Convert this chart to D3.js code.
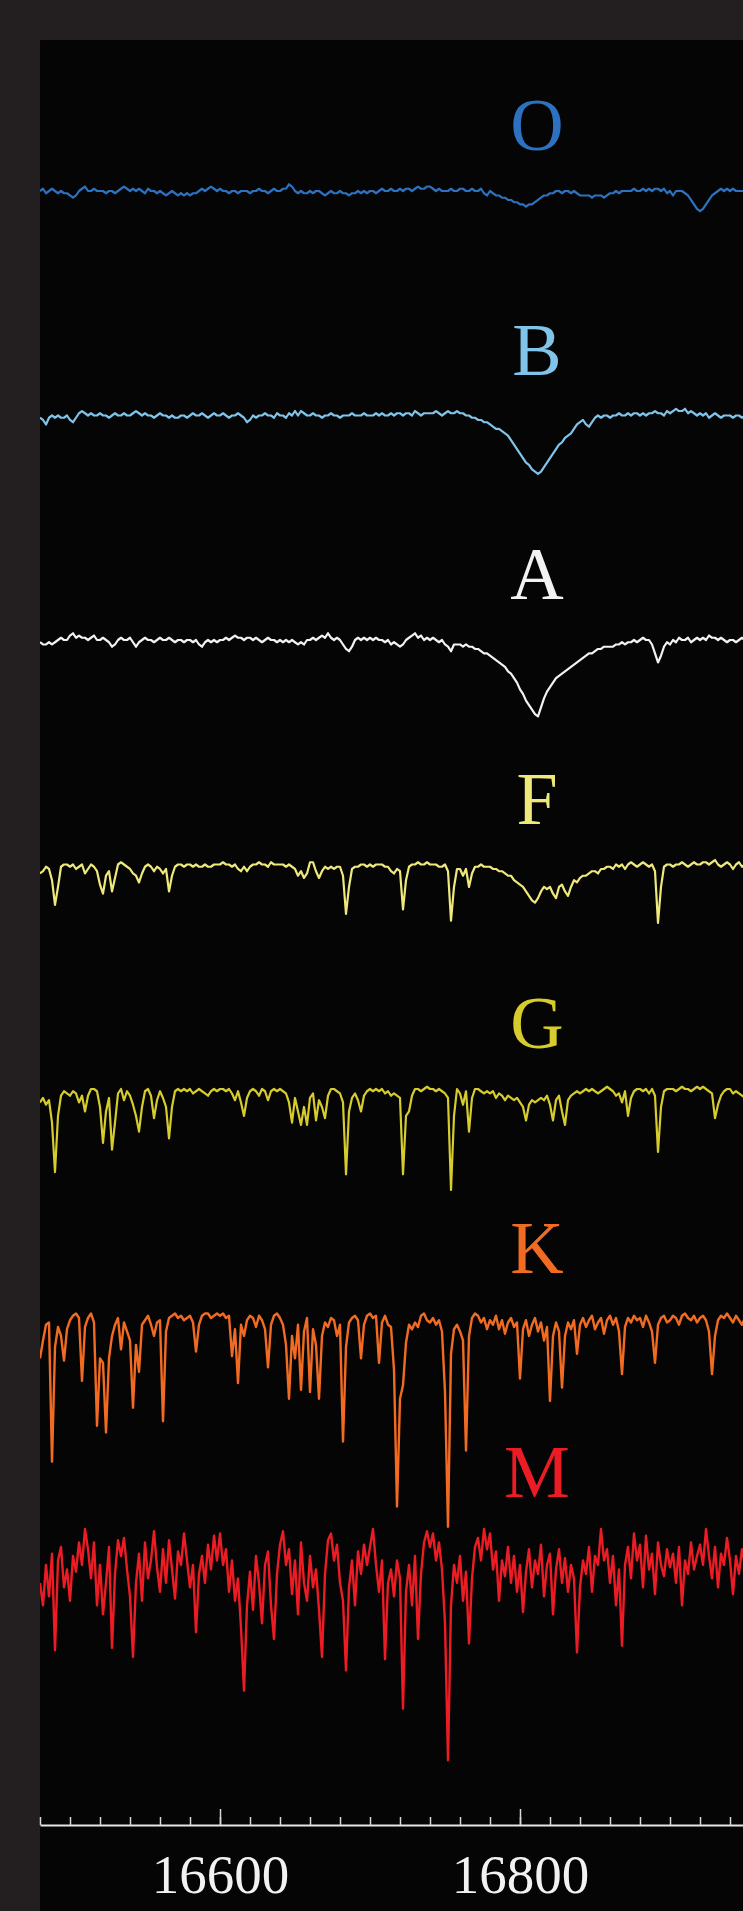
<!DOCTYPE html>
<html>
<head>
<meta charset="utf-8">
<script src="https://cdn.jsdelivr.net/npm/d3@7"></script>
<style>
  html, body { margin: 0; padding: 0; background: #231f20; }
  svg { display: block; }
</style>
</head>
<body>
<svg id="chart" width="743" height="1911"></svg>
<script>
// Wavelength sampling of every spectrum (Angstrom): first sample and spacing
const lambdaStart = 16480;
const lambdaStep = 2;

// Spectral classes, drawn top to bottom, and their colours
const spectralTypes = ["O", "B", "A", "F", "G", "K", "M"];
const typeColors = ["#2d72c0", "#80c4ea", "#f2f2f2", "#efe97c", "#d6cc2e", "#f26b22", "#ec1c24"];

// Normalised flux (continuum = 1) per class
const fluxO = [
  1.00, 1.01, 0.99, 1.00, 1.01, 1.00, 0.99, 1.00, 0.99, 0.99,
  0.98, 0.97, 0.98, 1.00, 1.01, 1.02, 1.00, 1.00, 1.01, 1.00,
  1.00, 1.00, 0.99, 1.00, 1.00, 0.99, 1.00, 1.01, 1.02, 1.01,
  1.00, 1.01, 1.00, 1.01, 1.00, 0.99, 1.01, 1.00, 1.00, 0.99,
  1.00, 0.99, 0.98, 0.99, 1.00, 0.99, 0.98, 0.99, 0.98, 0.99,
  0.98, 0.99, 0.99, 1.00, 1.01, 1.00, 1.01, 1.02, 1.01, 1.00,
  1.01, 1.00, 1.00, 0.99, 1.00, 1.00, 0.99, 1.00, 1.00, 1.00,
  0.99, 1.00, 1.00, 1.01, 1.00, 1.00, 0.99, 1.00, 1.01, 1.00,
  1.00, 1.01, 1.01, 1.03, 1.02, 1.00, 0.99, 1.00, 0.99, 0.99,
  1.00, 0.99, 1.00, 1.00, 0.99, 0.98, 0.99, 1.00, 0.99, 0.99,
  1.00, 0.99, 0.99, 0.98, 0.99, 0.99, 1.00, 0.99, 1.00, 0.99,
  1.00, 1.00, 0.99, 1.00, 1.01, 1.00, 1.00, 1.01, 1.00, 1.00,
  1.01, 1.00, 1.01, 1.01, 1.00, 1.01, 1.02, 1.01, 1.01, 1.02,
  1.02, 1.01, 1.00, 1.01, 1.00, 1.00, 1.00, 1.01, 1.00, 1.00,
  1.01, 1.01, 1.00, 1.00, 1.01, 1.00, 1.00, 1.01, 0.99, 0.98,
  1.00, 0.99, 0.98, 0.98, 0.97, 0.97, 0.96, 0.96, 0.95, 0.95,
  0.94, 0.94, 0.93, 0.94, 0.94, 0.95, 0.96, 0.97, 0.98, 0.98,
  0.99, 0.99, 1.00, 1.00, 0.99, 1.00, 1.00, 0.99, 1.00, 0.99,
  0.98, 0.98, 0.98, 0.98, 0.97, 0.98, 0.98, 0.98, 0.97, 0.98,
  0.99, 0.99, 1.00, 0.99, 1.00, 1.00, 1.00, 1.00, 1.01, 1.00,
  1.00, 1.01, 1.00, 1.01, 1.00, 1.01, 1.01, 1.00, 1.01, 0.99,
  1.00, 0.98, 1.00, 1.00, 1.00, 0.99, 0.98, 0.96, 0.94, 0.92,
  0.91, 0.92, 0.94, 0.96, 0.98, 0.99, 1.00, 1.01, 1.00, 1.01,
  1.00, 1.01, 1.00, 1.00, 1.00, 1.00
];

const fluxB = [
  0.99, 0.98, 0.96, 0.99, 1.00, 0.99, 1.00, 0.99, 0.99, 1.00,
  0.98, 0.97, 0.99, 1.01, 1.02, 1.01, 1.00, 1.01, 1.00, 1.00,
  1.01, 1.00, 1.00, 0.99, 1.00, 1.01, 1.00, 1.00, 1.01, 1.00,
  1.00, 1.01, 1.02, 1.01, 1.00, 1.01, 1.00, 1.00, 0.99, 1.00,
  1.01, 1.00, 1.00, 0.99, 1.00, 0.99, 0.99, 1.00, 1.00, 0.99,
  1.00, 1.01, 1.00, 1.00, 1.01, 1.00, 0.99, 1.00, 1.01, 1.00,
  1.00, 1.01, 1.00, 0.99, 1.00, 1.00, 1.01, 1.00, 0.99, 0.97,
  0.98, 1.00, 0.99, 1.00, 1.00, 1.01, 1.00, 1.00, 0.99, 1.01,
  1.00, 1.00, 0.99, 1.01, 1.00, 1.02, 1.00, 1.02, 1.01, 1.00,
  1.00, 1.01, 1.00, 1.00, 0.99, 1.00, 1.00, 1.01, 1.00, 1.00,
  0.99, 1.00, 1.00, 1.00, 1.01, 1.00, 1.00, 1.00, 1.01, 1.00,
  1.00, 1.00, 1.01, 1.00, 1.01, 1.00, 1.00, 1.01, 1.00, 1.01,
  1.01, 1.00, 1.01, 1.01, 1.00, 1.02, 1.01, 1.00, 1.01, 1.01,
  1.01, 1.01, 1.02, 1.01, 1.00, 1.01, 1.02, 1.01, 1.01, 1.02,
  1.01, 1.01, 1.00, 1.00, 0.99, 0.99, 0.98, 0.98, 0.97, 0.97,
  0.96, 0.95, 0.94, 0.94, 0.93, 0.92, 0.91, 0.89, 0.87, 0.85,
  0.83, 0.81, 0.79, 0.78, 0.76, 0.75, 0.74, 0.75, 0.77, 0.79,
  0.81, 0.83, 0.85, 0.87, 0.88, 0.90, 0.91, 0.92, 0.94, 0.96,
  0.97, 0.98, 0.96, 0.95, 0.97, 0.99, 1.00, 0.99, 1.00, 1.00,
  0.99, 1.00, 1.00, 1.01, 1.00, 1.00, 1.01, 1.00, 1.01, 1.01,
  1.00, 1.01, 1.00, 1.01, 1.01, 1.02, 1.01, 1.01, 1.00, 1.02,
  1.01, 1.02, 1.03, 1.02, 1.02, 1.03, 1.01, 1.02, 1.01, 1.00,
  1.01, 1.00, 1.01, 0.99, 1.00, 1.01, 1.00, 0.99, 1.00, 1.00,
  1.00, 0.99, 1.00, 1.00, 0.99, 1.00
];

const fluxA = [
  0.99, 0.98, 0.98, 0.99, 0.98, 0.99, 1.00, 1.01, 1.00, 1.00,
  1.02, 1.03, 1.01, 1.02, 1.01, 1.01, 1.00, 1.01, 1.02, 1.00,
  1.00, 1.01, 1.00, 0.99, 0.97, 0.98, 1.00, 1.01, 1.00, 1.00,
  1.01, 0.99, 0.97, 0.99, 1.00, 1.01, 1.00, 1.00, 0.99, 1.00,
  1.01, 1.00, 1.00, 1.01, 1.00, 0.99, 1.00, 1.00, 0.99, 1.00,
  1.00, 0.99, 1.00, 0.98, 0.97, 0.99, 1.00, 0.99, 1.00, 0.99,
  1.00, 1.00, 1.01, 1.00, 1.01, 1.02, 1.01, 1.01, 1.00, 1.01,
  1.01, 1.00, 1.01, 1.00, 0.99, 1.00, 1.01, 1.00, 1.00, 0.99,
  1.00, 0.99, 1.00, 0.99, 1.00, 0.99, 0.98, 0.99, 0.98, 1.00,
  1.00, 1.01, 1.00, 1.01, 1.02, 1.01, 1.03, 1.01, 1.00, 1.01,
  1.00, 0.98, 0.96, 0.95, 0.97, 1.00, 1.01, 1.00, 1.01, 1.00,
  1.01, 1.00, 1.01, 1.00, 1.00, 0.99, 1.00, 0.98, 0.99, 0.98,
  0.97, 0.98, 1.00, 1.01, 1.02, 1.03, 1.01, 1.02, 1.00, 1.01,
  1.00, 1.01, 1.00, 0.99, 1.00, 0.98, 0.97, 0.95, 0.98, 0.98,
  0.98, 0.97, 0.98, 0.97, 0.97, 0.96, 0.96, 0.95, 0.94, 0.94,
  0.93, 0.92, 0.91, 0.90, 0.89, 0.88, 0.86, 0.85, 0.83, 0.81,
  0.78, 0.76, 0.73, 0.71, 0.69, 0.67, 0.66, 0.70, 0.74, 0.77,
  0.79, 0.81, 0.83, 0.84, 0.85, 0.86, 0.87, 0.88, 0.89, 0.90,
  0.91, 0.92, 0.93, 0.94, 0.94, 0.95, 0.96, 0.96, 0.97, 0.97,
  0.97, 0.97, 0.98, 0.98, 0.99, 0.98, 0.99, 0.99, 1.00, 0.99,
  1.00, 1.01, 1.00, 1.00, 0.98, 0.94, 0.90, 0.93, 0.97, 0.99,
  0.98, 1.00, 0.99, 1.01, 1.00, 1.00, 1.01, 0.99, 1.00, 1.01,
  1.00, 1.01, 1.00, 1.02, 1.01, 1.01, 1.00, 1.01, 1.00, 0.99,
  1.00, 1.00, 0.99, 1.00, 1.01, 1.00
];

const fluxF = [
  0.96, 0.97, 0.99, 0.98, 0.93, 0.82, 0.90, 0.99, 1.00, 1.00,
  0.99, 1.00, 0.98, 0.99, 1.00, 0.96, 0.98, 1.00, 0.99, 0.97,
  0.91, 0.87, 0.95, 0.97, 0.88, 0.94, 1.00, 1.01, 1.00, 0.99,
  0.98, 0.96, 0.95, 0.92, 0.96, 0.99, 1.00, 0.99, 0.97, 0.99,
  0.98, 0.96, 0.98, 0.88, 0.95, 0.99, 1.00, 1.00, 0.99, 1.00,
  1.00, 0.99, 1.00, 0.99, 0.99, 1.00, 0.99, 0.99, 1.00, 1.00,
  1.00, 1.01, 1.00, 1.00, 0.99, 1.00, 0.98, 0.97, 0.99, 0.97,
  0.99, 1.00, 1.00, 1.01, 1.00, 1.00, 0.99, 1.01, 1.00, 1.00,
  1.00, 1.00, 0.99, 1.00, 0.99, 0.98, 0.95, 0.97, 0.94, 0.96,
  1.01, 1.01, 0.97, 0.94, 0.97, 0.99, 0.98, 0.99, 0.98, 0.99,
  0.99, 0.95, 0.78, 0.90, 0.98, 0.99, 0.99, 1.00, 1.00, 0.99,
  1.00, 0.99, 1.00, 1.00, 1.00, 0.99, 0.99, 0.97, 0.96, 0.98,
  0.97, 0.80, 0.93, 0.99, 1.00, 1.00, 1.01, 1.00, 1.00, 1.01,
  1.00, 1.00, 1.00, 0.99, 0.99, 1.00, 0.97, 0.75, 0.90, 0.98,
  0.98, 0.95, 0.98, 0.90, 0.96, 0.99, 0.99, 1.00, 0.99, 0.99,
  0.99, 0.98, 0.98, 0.97, 0.97, 0.96, 0.95, 0.95, 0.93, 0.92,
  0.91, 0.90, 0.88, 0.86, 0.84, 0.83, 0.85, 0.88, 0.90, 0.89,
  0.90, 0.87, 0.85, 0.90, 0.91, 0.88, 0.86, 0.90, 0.93, 0.92,
  0.94, 0.95, 0.95, 0.96, 0.97, 0.97, 0.96, 0.98, 0.98, 0.99,
  0.99, 0.98, 1.00, 0.99, 1.00, 0.98, 1.00, 1.01, 1.00, 0.99,
  1.00, 1.01, 1.00, 0.99, 1.00, 0.97, 0.74, 0.90, 0.99, 1.00,
  1.00, 0.99, 1.00, 1.00, 1.01, 1.00, 0.99, 1.00, 1.01, 1.00,
  1.00, 1.01, 1.01, 1.00, 1.01, 1.02, 1.00, 0.99, 1.00, 1.01,
  1.00, 0.98, 1.00, 1.01, 0.99, 1.00
];

const fluxG = [
  0.94, 0.96, 0.93, 0.95, 0.85, 0.63, 0.88, 0.97, 0.99, 0.98,
  0.97, 0.99, 0.98, 0.94, 0.97, 0.90, 0.97, 1.00, 1.00, 0.99,
  0.92, 0.76, 0.90, 0.96, 0.73, 0.85, 0.98, 1.00, 0.95, 0.99,
  0.97, 0.93, 0.88, 0.81, 0.92, 0.99, 1.00, 0.97, 0.87, 0.95,
  0.99, 0.96, 0.92, 0.78, 0.92, 0.99, 1.00, 0.99, 1.00, 0.99,
  1.00, 0.98, 0.99, 1.00, 0.99, 0.98, 0.97, 0.99, 1.00, 0.99,
  1.00, 1.00, 0.99, 1.00, 0.98, 0.95, 0.99, 0.94, 0.88, 0.96,
  0.99, 1.00, 0.99, 0.97, 1.00, 0.99, 0.95, 0.99, 1.00, 0.99,
  1.00, 0.99, 0.98, 0.94, 0.85, 0.96, 0.90, 0.84, 0.92, 0.84,
  0.96, 0.98, 0.86, 0.95, 0.92, 0.87, 0.97, 1.00, 1.00, 0.99,
  0.98, 0.94, 0.62, 0.90, 0.96, 0.98, 0.95, 0.90, 0.97, 0.99,
  1.00, 0.99, 1.00, 0.99, 1.00, 0.98, 0.99, 0.97, 0.98, 0.97,
  0.96, 0.62, 0.88, 0.90, 0.97, 1.00, 1.00, 0.99, 1.00, 1.01,
  1.00, 1.00, 0.99, 1.00, 0.99, 0.98, 0.96, 0.55, 0.88, 1.00,
  0.98, 0.93, 0.99, 0.81, 0.96, 1.00, 1.00, 0.99, 0.98, 0.99,
  0.98, 0.99, 0.96, 0.98, 0.97, 0.95, 0.97, 0.96, 0.95, 0.96,
  0.94, 0.92, 0.86, 0.93, 0.95, 0.94, 0.95, 0.96, 0.95, 0.97,
  0.93, 0.86, 0.95, 0.97, 0.90, 0.84, 0.95, 0.97, 0.98, 0.99,
  0.98, 0.99, 1.00, 0.99, 1.00, 0.99, 0.98, 0.99, 1.00, 1.01,
  1.00, 0.99, 0.97, 0.98, 0.94, 0.99, 0.88, 0.96, 0.99, 1.00,
  1.00, 0.99, 1.00, 0.98, 1.00, 0.97, 0.72, 0.92, 0.99, 1.00,
  1.00, 1.00, 0.99, 1.00, 1.01, 1.00, 1.00, 0.99, 1.00, 1.01,
  1.00, 1.01, 1.00, 0.99, 0.98, 0.87, 0.93, 0.97, 0.99, 1.00,
  1.00, 0.98, 0.99, 0.98, 0.97, 0.96
];

const fluxK = [
  0.80, 0.88, 0.95, 0.96, 0.34, 0.85, 0.94, 0.90, 0.79, 0.93,
  0.97, 0.99, 1.00, 0.98, 0.70, 0.94, 0.98, 1.00, 0.96, 0.50,
  0.80, 0.78, 0.47, 0.80, 0.90, 0.95, 0.98, 0.84, 0.96, 0.92,
  0.88, 0.58, 0.86, 0.74, 0.95, 0.97, 0.99, 0.95, 0.90, 0.96,
  0.97, 0.52, 0.92, 0.98, 0.99, 1.00, 0.98, 0.99, 0.97, 0.98,
  0.99, 0.96, 0.83, 0.95, 0.99, 1.00, 1.00, 0.98, 0.99, 1.00,
  0.99, 1.00, 0.98, 0.99, 0.81, 0.93, 0.69, 0.95, 0.90, 0.97,
  0.99, 0.98, 0.94, 0.99, 0.97, 0.93, 0.76, 0.95, 0.99, 1.00,
  0.98, 0.95, 0.86, 0.62, 0.90, 0.80, 0.95, 0.66, 0.92, 0.98,
  0.65, 0.93, 0.86, 0.62, 0.90, 0.96, 0.94, 0.98, 0.97, 0.90,
  0.95, 0.43, 0.85, 0.96, 0.98, 0.99, 0.97, 0.80, 0.95, 0.99,
  1.00, 0.98, 0.99, 0.78, 0.96, 0.99, 0.95, 0.94, 0.75, 0.14,
  0.62, 0.68, 0.87, 0.95, 0.93, 0.96, 0.94, 0.99, 1.00, 0.97,
  0.96, 0.98, 0.95, 0.97, 0.92, 0.65, 0.05, 0.82, 0.93, 0.95,
  0.92, 0.88, 0.39, 0.90, 0.98, 1.00, 0.99, 0.96, 0.98, 0.93,
  0.97, 0.95, 0.99, 0.93, 0.97, 0.91, 0.96, 0.98, 0.94, 0.96,
  0.71, 0.93, 0.97, 0.90, 0.95, 0.98, 0.92, 0.96, 0.88, 0.94,
  0.61, 0.90, 0.96, 0.92, 0.67, 0.90, 0.96, 0.93, 0.97, 0.82,
  0.95, 0.98, 0.94, 0.97, 0.99, 0.93, 0.96, 0.98, 0.91, 0.97,
  0.99, 0.95, 0.98, 0.92, 0.73, 0.94, 0.98, 0.96, 0.99, 0.97,
  0.98, 0.94, 0.99, 0.96, 0.92, 0.78, 0.95, 0.98, 0.99, 0.96,
  0.97, 0.99, 0.98, 0.95, 0.99, 1.00, 0.98, 0.97, 0.99, 0.96,
  0.98, 0.99, 0.97, 0.92, 0.73, 0.90, 0.97, 0.99, 0.98, 1.00,
  0.98, 0.96, 0.99, 0.97, 0.95, 0.98
];

const fluxM = [
  0.80, 0.70, 0.88, 0.74, 0.93, 0.50, 0.90, 0.96, 0.78, 0.86,
  0.72, 0.92, 0.85, 0.98, 0.88, 1.04, 0.95, 0.82, 0.98, 0.70,
  0.88, 0.66, 0.80, 0.96, 0.51, 0.84, 0.99, 0.92, 1.00, 0.86,
  0.74, 0.47, 0.80, 0.93, 0.72, 0.98, 0.82, 0.90, 1.03, 0.87,
  0.76, 0.95, 0.80, 0.99, 0.86, 0.73, 0.94, 0.88, 1.02, 0.90,
  0.78, 0.88, 0.58, 0.84, 0.92, 0.80, 0.97, 0.86, 1.01, 0.90,
  1.02, 0.88, 0.95, 0.76, 0.90, 0.72, 0.82, 0.60, 0.32, 0.70,
  0.85, 0.68, 0.92, 0.80, 0.62, 0.88, 0.94, 0.70, 0.55, 0.84,
  0.97, 1.03, 0.88, 0.95, 0.75, 0.90, 0.66, 0.98, 0.80, 0.72,
  0.92, 0.78, 0.86, 0.68, 0.47, 0.84, 0.99, 1.02, 0.90, 0.97,
  0.80, 0.72, 0.41, 0.78, 0.90, 0.70, 0.94, 0.84, 0.97, 0.88,
  0.96, 1.04, 0.88, 0.76, 0.90, 0.46, 0.80, 0.86, 0.74, 0.90,
  0.82, 0.24, 0.76, 0.88, 0.70, 0.92, 0.55, 0.84, 0.98, 1.03,
  0.96, 1.02, 0.90, 0.98, 0.86, 0.62, 0.01, 0.70, 0.88, 0.80,
  0.92, 0.72, 0.85, 0.53, 0.82, 0.96, 1.00, 0.90, 1.04, 0.95,
  1.02, 0.86, 0.94, 0.72, 0.90, 0.83, 0.96, 0.80, 0.92, 0.76,
  0.88, 0.67, 0.85, 0.95, 0.78, 0.90, 0.84, 0.97, 0.74, 0.88,
  0.93, 0.66, 0.86, 0.95, 0.80, 0.91, 0.76, 0.88, 0.82, 0.49,
  0.78, 0.90, 0.84, 0.96, 0.76, 0.92, 0.88, 1.04, 0.90, 0.95,
  0.80, 0.92, 0.70, 0.86, 0.52, 0.88, 0.96, 0.82, 1.02, 0.90,
  0.97, 0.78, 1.01, 0.86, 0.93, 0.75, 0.98, 0.88, 0.83, 0.95,
  0.87, 0.93, 0.80, 0.96, 0.70, 0.90, 0.84, 0.98, 0.86, 0.92,
  0.97, 0.88, 1.04, 0.92, 0.82, 0.96, 0.78, 0.93, 0.88, 1.00,
  0.90, 0.75, 0.92, 0.84, 0.95, 0.88
];

// Vertical offset added to each class so the spectra stack
const typeOffsets = [6, 5, 4, 3, 2, 1, 0];

// Wavelength axis ticks
const axisMinorStep = 20;
const axisMajorTicks = [16600, 16800];

const fluxes = [fluxO, fluxB, fluxA, fluxF, fluxG, fluxK, fluxM];
const series = spectralTypes.map((t, k) => ({
  type: t, color: typeColors[k], offset: typeOffsets[k], flux: fluxes[k]
}));

const W = 743, H = 1911;
const panel = { left: 40, top: 40, right: 743, bottom: 1911 };
const axisY = 1825;

const svg = d3.select("#chart");

// dark frame and black plotting panel
svg.append("rect").attr("width", W).attr("height", H).attr("fill", "#231f20");
svg.append("rect")
  .attr("x", panel.left).attr("y", panel.top)
  .attr("width", panel.right - panel.left).attr("height", panel.bottom - panel.top)
  .attr("fill", "#050505");

svg.append("clipPath").attr("id", "panelClip")
  .append("rect")
  .attr("x", panel.left).attr("y", panel.top)
  .attr("width", panel.right - panel.left).attr("height", panel.bottom - panel.top);

// 1.5 px per Angstrom
const x = d3.scaleLinear()
  .domain([16480, 16480 + (panel.right - panel.left) / 1.5])
  .range([panel.left, panel.right]);

// stacked flux: continuum of O at top, M at bottom
const y = d3.scaleLinear().domain([1, 7]).range([1538, 191]);

const line = d3.line()
  .x((d, i) => x(lambdaStart + i * lambdaStep))
  .y(d => d);

const plot = svg.append("g").attr("clip-path", "url(#panelClip)");

plot.selectAll("path.spectrum")
  .data(series)
  .join("path")
  .attr("class", "spectrum")
  .attr("fill", "none")
  .attr("stroke", d => d.color)
  .attr("stroke-width", d => (d.type === "M" || d.type === "K") ? 2.4 : 2.2)
  .attr("stroke-linejoin", "round")
  .attr("d", s => line(s.flux.map(f => y(f + s.offset))));

// class labels above each spectrum
svg.selectAll("text.type-label")
  .data(series)
  .join("text")
  .attr("class", "type-label")
  .attr("x", 537)
  .attr("y", d => y(d.offset + 1) - 41)
  .attr("text-anchor", "middle")
  .attr("fill", d => d.color)
  .style("font-family", "'Liberation Serif', 'Times New Roman', serif")
  .style("font-size", "74px")
  .text(d => d.type);

// wavelength axis: minor ticks every 20 A, labelled major ticks
const minorTicks = d3.range(16480, x.domain()[1], axisMinorStep);

const minorAxis = d3.axisBottom(x)
  .tickValues(minorTicks)
  .tickSizeInner(-8)
  .tickSizeOuter(0)
  .tickFormat("");

const majorAxis = d3.axisBottom(x)
  .tickValues(axisMajorTicks)
  .tickSizeInner(-16)
  .tickSizeOuter(0)
  .tickPadding(32)
  .tickFormat(d3.format("d"));

const gMinor = svg.append("g").attr("transform", `translate(0,${axisY})`).call(minorAxis);
const gMajor = svg.append("g").attr("transform", `translate(0,${axisY})`).call(majorAxis);

gMinor.select(".domain").attr("stroke", "#e6e6e6").attr("stroke-width", 2);
gMajor.select(".domain").remove();
gMinor.selectAll(".tick line").attr("stroke", "#d8d8d8").attr("stroke-width", 1.5);
gMajor.selectAll(".tick line").attr("stroke", "#d8d8d8").attr("stroke-width", 1.5);
gMajor.selectAll(".tick text")
  .attr("fill", "#f2f2f2")
  .attr("dy", "0.66em")
  .style("font-family", "'Liberation Serif', 'Times New Roman', serif")
  .style("font-size", "55px");
</script>
</body>
</html>
